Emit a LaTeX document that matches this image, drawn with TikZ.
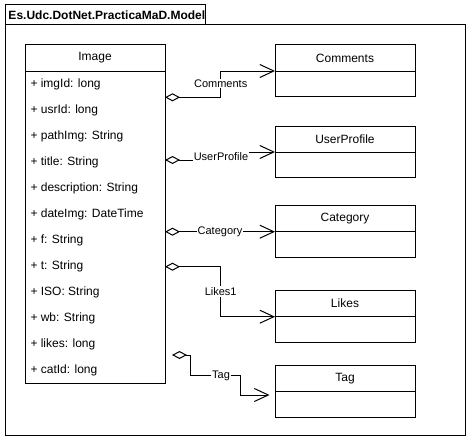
\documentclass[tikz,border=0pt]{standalone}
\usepackage{fontspec}
\setmainfont{Liberation Sans}
\usetikzlibrary{arrows.meta}
\begin{document}
\begin{tikzpicture}[x=1pt,y=-1pt,line width=1pt,
  box/.style={draw,line width=1pt},
  cname/.style={font=\fontsize{12}{14}\selectfont,anchor=center,inner sep=0pt},
  attr/.style={font=\fontsize{12}{14}\selectfont,anchor=west,inner sep=0pt},
  elabel/.style={font=\fontsize{11}{13}\selectfont,fill=white,inner sep=1pt},
  assoc/.style={draw,line width=1pt,{Diamond[open,length=15pt,width=8pt,line width=1pt]}-{Straight Barb[length=14pt,width=13pt,line width=1pt]}}]
\useasboundingbox (0,0) rectangle (473,444);
% package
\draw[box] (5,25) rectangle (465,435);
\draw[box] (5,5) rectangle (205,25);
\node[font=\bfseries\fontsize{12}{14}\selectfont,anchor=west,inner sep=0pt] (pkg) at (8,15) {Es.Udc.DotNet.PracticaMaD.Model};
% Image class
\draw[box] (25,45) rectangle (165,383);
\draw (25,71) -- (165,71);
\node[cname] (imgname) at (95,58) {Image};
\foreach \t [count=\i from 0] in {{+ imgId: long},{+ usrId: long},{+ pathImg: String},{+ title: String},{+ description: String},{+ dateImg: DateTime},{+ f: String},{+ t: String},{+ ISO: String},{+ wb: String},{+ likes: long},{+ catId: long}}
  \node[attr] (a\i) at (30,{84.7+26*\i}) {\t};
% right classes
\foreach \n/\y in {comments/45,userprofile/126,category/205.7,likes/290.7,tag/365.7}{
  \draw[box] (275,\y) rectangle (415,\y+51.5);
  \draw (275,\y+26) -- (415,\y+26);
}
\node[cname] (cComments) at (345,58.3) {Comments};
\node[cname] (cUser) at (345,139) {UserProfile};
\node[cname] (cCat) at (345,218.7) {Category};
\node[cname] (cLikes) at (345,303.7) {Likes};
\node[cname] (cTag) at (345,378.7) {Tag};
\coordinate (inComments) at (275,71);
\coordinate (inUser) at (275,152);
\coordinate (inCat) at (275,231.7);
\coordinate (inLikes) at (275,316.7);
\coordinate (inTag) at (269.5,395);
\coordinate (outComments) at (165,97.3);
\coordinate (outUser) at (165,160);
\coordinate (outCat) at (165,231.7);
\coordinate (outLikes) at (165,266.7);
\coordinate (outTag) at (172,355);
% connectors
\draw[assoc] (outComments) -- (220.7,97.3) -- (220.7,71) -- (inComments);
\node[elabel] (lComments) at (220.7,83.5) {Comments};
\draw[assoc] (outUser) -- (221,160) -- (221,152) -- (inUser);
\node[elabel] (lUser) at (221,157) {UserProfile};
\draw[assoc] (outCat) -- (inCat);
\node[elabel] (lCat) at (220,231.7) {Category};
\draw[assoc] (outLikes) -- (220.7,266.7) -- (220.7,316.7) -- (inLikes);
\node[elabel] (lLikes) at (220.7,291.5) {Likes1};
\draw[assoc] (outTag) -- (190.7,355) -- (190.7,375.7) -- (240,375.7) -- (240,395) -- (inTag);
\node[elabel] (lTag) at (221,375.7) {Tag};
\end{tikzpicture}
\end{document}
